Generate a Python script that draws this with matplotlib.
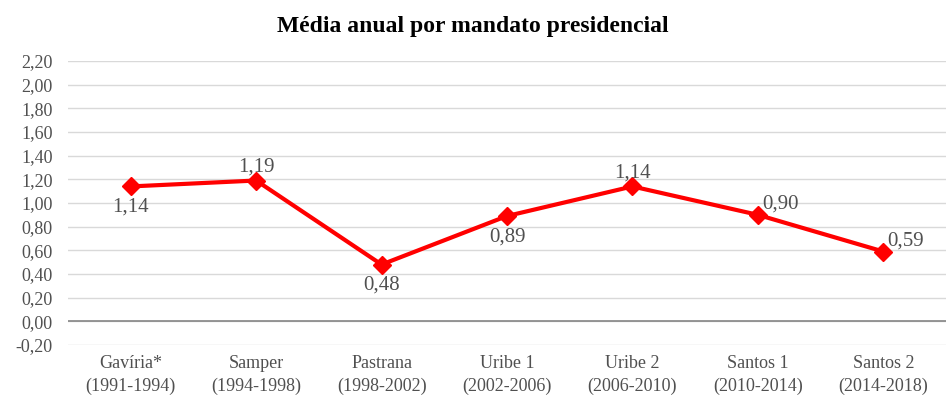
import matplotlib
matplotlib.use('Agg')
import matplotlib.pyplot as plt
from matplotlib.ticker import FuncFormatter

mandatos = ['Gavíria*\n(1991-1994)', 'Samper\n(1994-1998)', 'Pastrana\n(1998-2002)',
            'Uribe 1\n(2002-2006)', 'Uribe 2\n(2006-2010)', 'Santos 1\n(2010-2014)',
            'Santos 2\n(2014-2018)']
media = [1.14, 1.19, 0.48, 0.89, 1.14, 0.90, 0.59]
# where each value label sits relative to its point
label_pos = ['below', 'above', 'below', 'below', 'above', 'right', 'right']

plt.rcParams['font.family'] = ['Liberation Serif', 'DejaVu Serif']
txt = '#505050'

fig = plt.figure(figsize=(9.46, 3.98), dpi=100)
ax = fig.add_axes([68 / 946, 1 - 345 / 398, 878 / 946, 284 / 398])

x = list(range(len(media)))
ax.plot(x, media, color='#ff0000', lw=3, marker='D', ms=9, zorder=3)

for xi, v, pos in zip(x, media, label_pos):
    s = f'{v:.2f}'.replace('.', ',')
    if pos == 'above':
        ax.annotate(s, (xi, v), xytext=(0, 3), textcoords='offset points',
                    ha='center', va='bottom', fontsize=15, color=txt)
    elif pos == 'below':
        ax.annotate(s, (xi, v), xytext=(0, -8), textcoords='offset points',
                    ha='center', va='top', fontsize=15, color=txt)
    else:
        ax.annotate(s, (xi, v), xytext=(3, 1), textcoords='offset points',
                    ha='left', va='bottom', fontsize=15, color=txt)

ax.set_xlim(-0.5, len(media) - 0.5)
ax.set_ylim(-0.2, 2.2)
ax.set_yticks([i * 0.2 - 0.2 for i in range(13)])
ax.yaxis.set_major_formatter(FuncFormatter(lambda v, p: f'{v:.2f}'.replace('.', ',')))
ax.set_xticks(x)
ax.set_xticklabels(mandatos, linespacing=1.45)
ax.tick_params(axis='both', length=0, labelsize=13, labelcolor=txt)
ax.tick_params(axis='y', pad=11)
ax.tick_params(axis='x', pad=7)
ax.grid(axis='y', color='#d9d9d9', lw=1)
ax.axhline(0, color='#868686', lw=1.2, zorder=2)
for sp in ax.spines.values():
    sp.set_visible(False)

fig.suptitle('Média anual por mandato presidencial', y=0.96, fontsize=17,
             fontweight='bold', color='black')

fig.savefig('out.png', dpi=100)
